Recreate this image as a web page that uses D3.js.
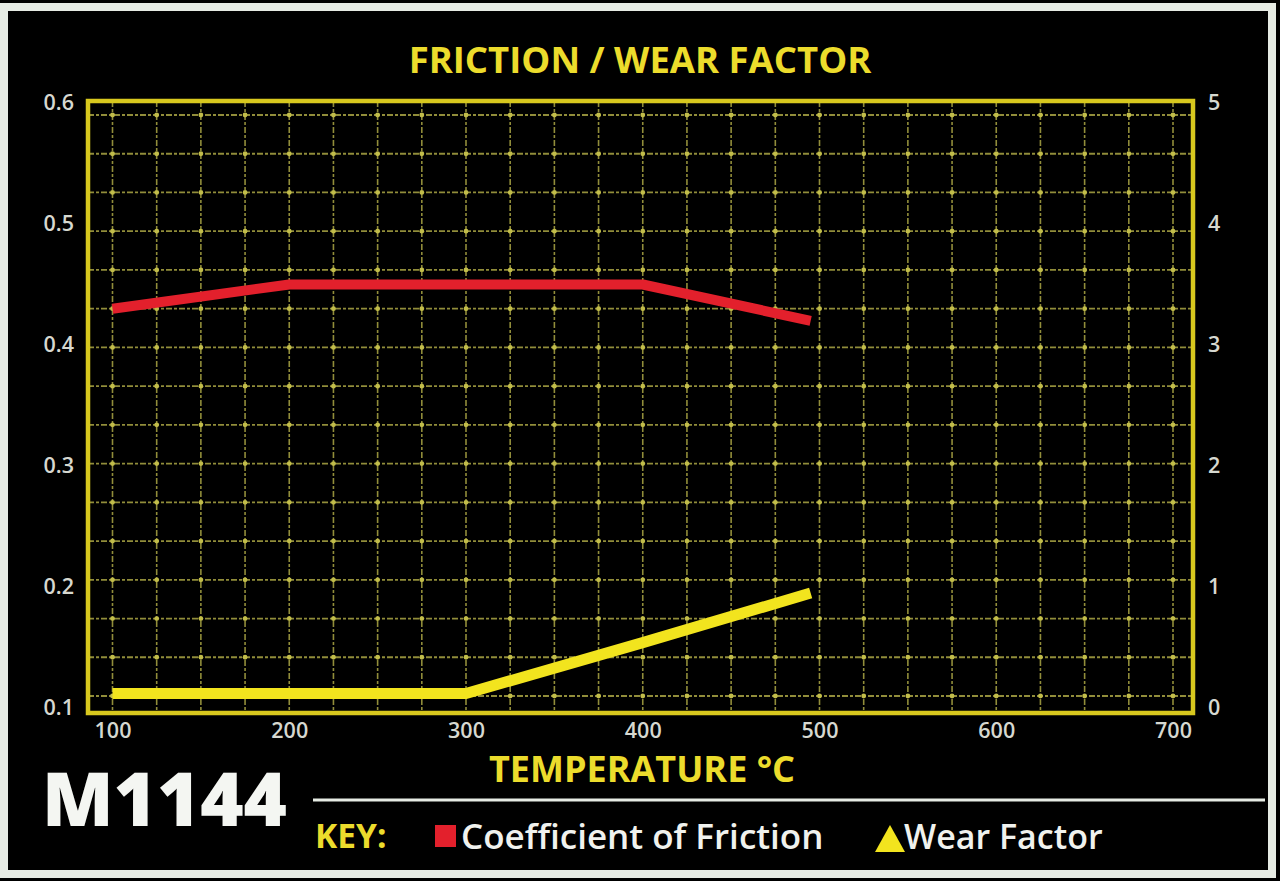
<!DOCTYPE html>
<html>
<head>
<meta charset="utf-8">
<script src="https://cdn.jsdelivr.net/npm/d3@7"></script>
<style>
  html, body { margin: 0; padding: 0; background: #000; }
  svg { display: block; }
</style>
</head>
<body>
<script>
// ---- data ----
const chartTitle = "FRICTION / WEAR FACTOR";
const xAxisTitle = "TEMPERATURE °C";
const productCode = "M1144";
const temperatures = [100, 200, 300, 400, 495];
const frictionValues = [0.43, 0.45, 0.45, 0.45, 0.42];
const wearValues = [0.12, 0.12, 0.12, 0.54, 0.95];
const xTickValues = [100, 200, 300, 400, 500, 600, 700];
const frictionTickValues = [0.1, 0.2, 0.3, 0.4, 0.5, 0.6];
const wearTickValues = [0, 1, 2, 3, 4, 5];
const legendLabels = ["Coefficient of Friction", "Wear Factor"];

// ---- layout ----
const W = 1280, H = 881;
const FONT = "'Open Sans', 'Noto Sans', sans-serif";
const svg = d3.select("body").append("svg").attr("width", W).attr("height", H);
svg.append("rect").attr("width", W).attr("height", H).attr("fill", "#000");
// outer white border
svg.append("rect").attr("x", 4).attr("y", 7).attr("width", 1268).attr("height", 867)
  .attr("fill", "none").attr("stroke", "#e6ebe4").attr("stroke-width", 8);

const x = d3.scaleLinear().domain([100, 700]).range([112.5, 1173]);
const yF = d3.scaleLinear().domain([0.1, 0.6]).range([708, 103]);
const yW = d3.scaleLinear().domain([0, 5]).range([708, 103]);

const frame = { x0: 88, x1: 1193, y0: 101, y1: 713 };

// grid (decorative, 25°C vertical spacing; 16 horizontal rules)
const gridColor = "#918d3a";
const vGrid = d3.range(100, 701, 25);
const hGrid = d3.range(16).map(i => 115 + i * (696 - 115) / 15);
const g = svg.append("g");
g.selectAll(".vg").data(vGrid).join("line")
  .attr("x1", d => x(d)).attr("x2", d => x(d))
  .attr("y1", frame.y0).attr("y2", frame.y1)
  .attr("stroke", gridColor).attr("stroke-width", 1.6).attr("stroke-dasharray", "6,2,3,2");
g.selectAll(".hg").data(hGrid).join("line")
  .attr("x1", frame.x0).attr("x2", frame.x1)
  .attr("y1", d => d).attr("y2", d => d)
  .attr("stroke", gridColor).attr("stroke-width", 1.8).attr("stroke-dasharray", "6,2,3,2");
// bright intersection dots
const pts = [];
vGrid.forEach(v => hGrid.forEach(h => pts.push([x(v), h])));
g.selectAll(".dot").data(pts).join("circle")
  .attr("cx", d => d[0]).attr("cy", d => d[1]).attr("r", 2.4)
  .attr("fill", "#c2bd4a");

// frame
svg.append("rect").attr("x", frame.x0).attr("y", frame.y0)
  .attr("width", frame.x1 - frame.x0).attr("height", frame.y1 - frame.y0)
  .attr("fill", "none").attr("stroke", "#d8c81e").attr("stroke-width", 4.5);

// axes
const tickColor = "#d6d8d0";
const axL = svg.append("g").attr("transform", `translate(74,0)`)
  .call(d3.axisLeft(yF).tickValues(frictionTickValues).tickFormat(d3.format(".1f")).tickSize(0).tickPadding(0));
const axR = svg.append("g").attr("transform", `translate(1208,0)`)
  .call(d3.axisRight(yW).tickValues(wearTickValues).tickFormat(d3.format("d")).tickSize(0).tickPadding(0));
const axB = svg.append("g").attr("transform", `translate(0,723)`)
  .call(d3.axisBottom(x).tickValues(xTickValues).tickFormat(d3.format("d")).tickSize(0).tickPadding(0));
[axL, axR, axB].forEach(a => {
  a.select(".domain").remove();
  a.selectAll("text").attr("fill", tickColor).attr("font-family", FONT)
    .attr("font-size", 21.5).attr("font-weight", 600);
});

// series lines
const line = d3.line();
svg.append("path")
  .attr("d", line(temperatures.map((t, i) => [x(t), yF(frictionValues[i])])))
  .attr("fill", "none").attr("stroke", "#e3202c").attr("stroke-width", 10)
  .attr("stroke-linejoin", "round");
svg.append("path")
  .attr("d", line(temperatures.map((t, i) => [x(t), yW(wearValues[i])])))
  .attr("fill", "none").attr("stroke", "#f2e41e").attr("stroke-width", 11)
  .attr("stroke-linejoin", "round");

// titles
svg.append("text").attr("x", 640).attr("y", 73).attr("text-anchor", "middle")
  .attr("font-family", FONT).attr("font-weight", 700).attr("font-size", 36.5)
  .attr("fill", "#ecdc2c").text(chartTitle);
svg.append("text").attr("x", 642).attr("y", 782).attr("text-anchor", "middle")
  .attr("font-family", FONT).attr("font-weight", 700).attr("font-size", 36)
  .attr("fill", "#ecdc2c").text(xAxisTitle);
svg.append("text").attr("x", 42).attr("y", 826)
  .attr("font-family", FONT).attr("font-weight", 800).attr("font-size", 74)
  .attr("fill", "#f4f6f2").text(productCode);

// key rule
svg.append("line").attr("x1", 313).attr("x2", 1265).attr("y1", 800).attr("y2", 800)
  .attr("stroke", "#e6ebe4").attr("stroke-width", 3);

// legend
svg.append("text").attr("x", 315).attr("y", 848)
  .attr("font-family", FONT).attr("font-weight", 700).attr("font-size", 33.5)
  .attr("fill", "#ecdc2c").text("KEY:");
svg.append("rect").attr("x", 435).attr("y", 825).attr("width", 21).attr("height", 22)
  .attr("fill", "#e3202c");
svg.append("text").attr("x", 461).attr("y", 849)
  .attr("font-family", FONT).attr("font-weight", 600).attr("font-size", 35)
  .attr("fill", "#f0f2ee").text(legendLabels[0]);
svg.append("path").attr("d", "M875,852 L890,825 L905,852 Z").attr("fill", "#f2e41e");
svg.append("text").attr("x", 904).attr("y", 849)
  .attr("font-family", FONT).attr("font-weight", 600).attr("font-size", 34)
  .attr("fill", "#f0f2ee").text(legendLabels[1]);
</script>
</body>
</html>
